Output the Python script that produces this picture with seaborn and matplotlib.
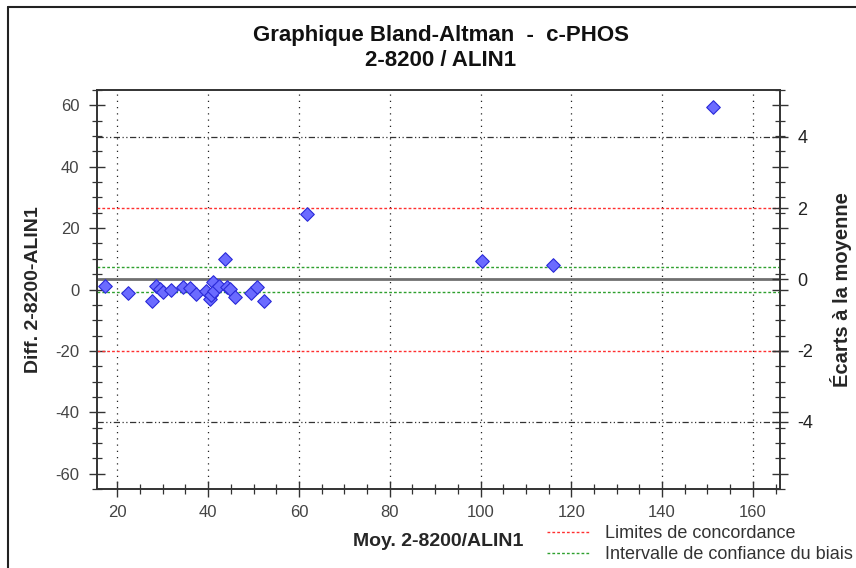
import seaborn as sns
import matplotlib.pyplot as plt
import pandas as pd
from matplotlib.lines import Line2D
from matplotlib.ticker import MultipleLocator

# mean of the two methods and their difference
moyenne = [17.3, 22.3, 27.6, 28.5, 29.4, 30.0, 31.8, 34.5, 36.0, 37.4,
           39.6, 40.3, 40.7, 41.0, 41.3, 42.3, 43.8, 44.2, 44.8, 46.0,
           49.5, 50.7, 52.2, 61.8, 100.3, 116.0, 151.3]
diff = [1.3, -1.1, -3.6, 1.3, 0.3, -0.7, -0.2, 0.8, 0.6, -1.3,
        -0.4, -3.0, -1.9, 2.4, -0.6, 1.3, 9.8, 0.8, 0.2, -2.5,
        -1.1, 0.7, -3.8, 24.7, 9.4, 8.1, 59.6]

biais = 3.3
ecart_type = 11.6
ic_biais = [7.4, -0.8]
limites = [biais + 2 * ecart_type, biais - 2 * ecart_type]

df = pd.DataFrame({'moy': moyenne, 'diff': diff})

sns.set_style('white')
plt.rcParams['font.family'] = ['Liberation Sans', 'DejaVu Sans']
plt.rcParams['axes.unicode_minus'] = False

fig = plt.figure(figsize=(8.56, 5.68), dpi=100)
ax = fig.add_axes([0.1133, 0.139, 0.798, 0.7025])
ax2 = ax.twinx()

sns.scatterplot(data=df, x='moy', y='diff', marker='D', s=48,
                color='#6b6bff', edgecolor='#2a2ad8', linewidth=0.8,
                zorder=5, ax=ax)

dash = (0, (2, 1.5))
ax.axhline(biais, color='#707070', lw=2, zorder=2)
for v in limites:
    ax.axhline(v, color='#ff3030', lw=1, ls=dash, zorder=3)
for v in ic_biais:
    ax.axhline(v, color='#2ea02e', lw=1, ls=dash, zorder=3)
# grille des écarts à ±4
for k in (4, -4):
    ax.axhline(biais + k * ecart_type, color='#333333', lw=0.9,
               ls=(0, (5, 2, 1, 2, 1, 2)), zorder=1)

ax.set_xlim(15.5, 166)
ax.set_ylim(-65, 65)
ax.xaxis.set_major_locator(MultipleLocator(20))
ax.xaxis.set_minor_locator(MultipleLocator(5))
ax.yaxis.set_major_locator(MultipleLocator(20))
ax.yaxis.set_minor_locator(MultipleLocator(5))
ax.xaxis.grid(True, color='#222222', ls=(0, (1, 4)), lw=0.9)
ax.yaxis.grid(False)

ax2.set_ylim((-65 - biais) / ecart_type, (65 - biais) / ecart_type)
ax2.yaxis.set_major_locator(MultipleLocator(2))
ax2.grid(False)

for a in (ax, ax2):
    for s in a.spines.values():
        s.set_color('#333333')
        s.set_linewidth(1.2)

ax.tick_params(which='major', direction='inout', length=11, width=1,
               color='#333333', labelsize=12, labelcolor='#444444',
               left=True, bottom=True, right=True)
ax.tick_params(which='minor', direction='inout', length=7, width=0.9,
               color='#333333', left=True, bottom=True, right=True)
ax.tick_params(axis='y', pad=7)
ax.tick_params(axis='x', pad=6)
ax2.tick_params(which='major', direction='inout', length=11, width=1,
                color='#333333', labelsize=13, labelcolor='#222222', pad=7)

ax.set_xlabel('Moy. 2-8200/ALIN1', fontsize=14, fontweight='bold', labelpad=9)
ax.set_ylabel('Diff. 2-8200-ALIN1', fontsize=14, fontweight='bold', labelpad=10)
ax2.set_ylabel('Écarts à la moyenne', fontsize=14.5, fontweight='bold', labelpad=12)

fig.text(0.515, 0.938, 'Graphique Bland-Altman  -  c-PHOS', ha='center',
         va='center', fontsize=16, fontweight='bold', color='#111111')
fig.text(0.515, 0.894, '2-8200 / ALIN1', ha='center', va='center',
         fontsize=16, fontweight='bold', color='#111111')

handles = [Line2D([], [], color='#ff3030', lw=1, ls=dash),
           Line2D([], [], color='#2ea02e', lw=1, ls=dash)]
fig.legend(handles, ['Limites de concordance', 'Intervalle de confiance du biais'],
           loc='upper left', bbox_to_anchor=(0.6285, 0.091), frameon=False,
           fontsize=13, handlelength=2.4, handletextpad=0.8,
           labelspacing=0.2, borderpad=0, labelcolor='#333333')

# cadre extérieur
fig.add_artist(Line2D([0.0095, 1.0], [0.988, 0.988], color='#222222', lw=1.5))
fig.add_artist(Line2D([0.0095, 0.0095], [0.0, 0.988], color='#222222', lw=1.5))

fig.savefig('out.png', dpi=100, facecolor='white')
